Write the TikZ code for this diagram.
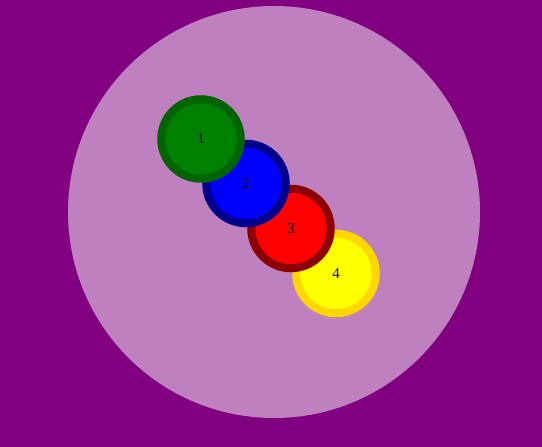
\documentclass[tikz,border=0pt]{standalone}
\usepackage{fontspec}
\setmainfont{Liberation Serif}
\usetikzlibrary{positioning}
\definecolor{Plum}{HTML}{800080}
\definecolor{PlumLight}{HTML}{BF80BF}
\definecolor{BallGreen}{HTML}{008000}
\definecolor{BallGreenDark}{HTML}{006400}
\definecolor{BallBlue}{HTML}{0000FF}
\definecolor{BallBlueDark}{HTML}{00008B}
\definecolor{BallRed}{HTML}{FF0000}
\definecolor{BallRedDark}{HTML}{8B0000}
\definecolor{BallYellow}{HTML}{FFFF00}
\definecolor{BallYellowDark}{HTML}{FFD700}

\begin{document}
\begin{tikzpicture}[x=1pt,y=-1pt,
    ball/.style={circle,minimum size=79.5pt,inner sep=0pt,line width=8pt,
                 font=\fontsize{15}{17}\selectfont,text=black}]
        % background and disc
        \fill[Plum] (0,0) rectangle (542,447);
        \useasboundingbox (0,0) rectangle (542,447);
        \fill[PlumLight] (274,212) circle (206);
        % balls, last one first so that 1 lies on top
        \foreach \n/\x/\y/\c in {4/336/273.5/Yellow,3/291/228.5/Red,
                                 2/246/183.5/Blue,1/201/139/Green}{
          \node[ball,fill=Ball\c,draw=Ball\c Dark] (ball\n) at (\x,\y) {\n};
        }
      \end{tikzpicture}
\end{document}
